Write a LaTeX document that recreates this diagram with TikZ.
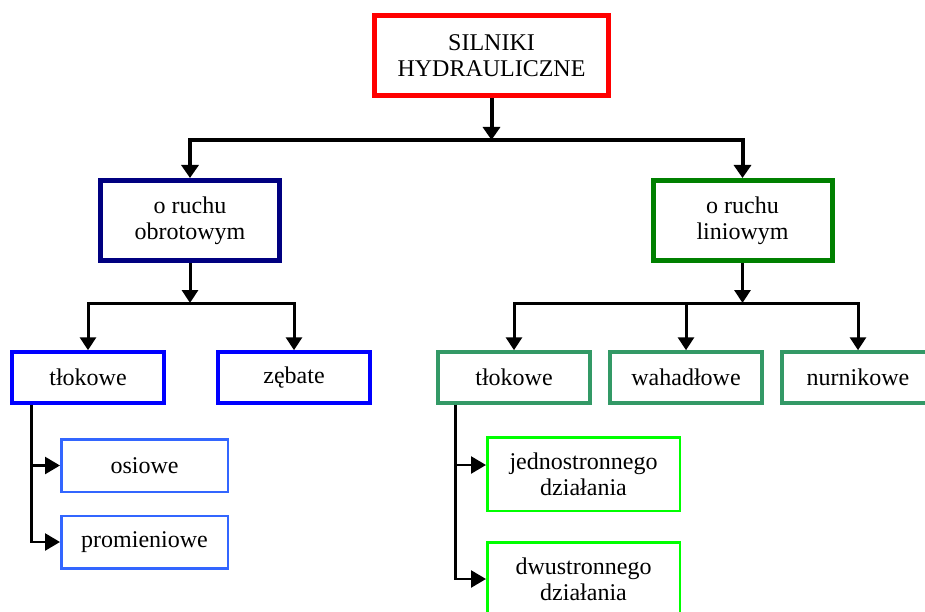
\documentclass[tikz,border=0pt]{standalone}
\usepackage{fontspec}
\setmainfont{Liberation Serif}
\usetikzlibrary{arrows.meta}

\definecolor{mainred}{RGB}{255,0,0}
\definecolor{rotnavy}{RGB}{0,0,128}
\definecolor{lingreen}{RGB}{0,128,0}
\definecolor{rotblue}{RGB}{0,0,255}
\definecolor{linsea}{RGB}{51,153,102}
\definecolor{sublight}{RGB}{51,102,255}
\definecolor{sublime}{RGB}{0,255,0}

\begin{document}
\begin{tikzpicture}[
    x=1pt, y=-1pt,
    box/.style={rectangle, draw, fill=white, inner sep=0pt, align=center,
        font=\fontsize{24}{26}\selectfont},
    main box/.style={box, draw=mainred, line width=5pt, minimum width=234pt, minimum height=80pt},
    group box/.style={box, line width=5pt, minimum width=179pt, minimum height=80pt},
    type box/.style={box, line width=3.5pt, minimum width=152pt, minimum height=51pt},
    sub box/.style={box, line width=2.5pt},
    bus/.style={line width=4pt, -{Triangle[length=13pt,width=17pt]}},
    branch/.style={line width=3pt, -{Triangle[length=13pt,width=16pt]}},
    side/.style={line width=2.5pt, -{Triangle[length=15pt,width=17pt]}}
]
\useasboundingbox (0,0) rectangle (925,612);
\clip (0,0) rectangle (925,612);

% Top
\node[main box] (top) at (491.5,55.5) {SILNIKI\\HYDRAULICZNE};

% Rotary and linear groups
\node[group box, draw=rotnavy] (rot) at (190,220.5) {o ruchu\\obrotowym};
\node[group box, draw=lingreen] (lin) at (742.5,220.5) {o ruchu\\liniowym};

% Types
\node[type box, draw=rotblue] (tlok1) at (88,377.5) {tłokowe};
\node[type box, draw=rotblue] (zeb) at (294,377.5) {zębate};
\node[type box, draw=linsea] (tlok2) at (514,377.5) {tłokowe};
\node[type box, draw=linsea] (wah) at (686,377.5) {wahadłowe};
\node[type box, draw=linsea] (nurn) at (858,377.5) {nurnikowe};

% Sub-types
\node[sub box, draw=sublight, minimum width=166.5pt, minimum height=52.5pt] (osiowe) at (144.5,465.5) {osiowe};
\node[sub box, draw=sublight, minimum width=166.5pt, minimum height=52.5pt] (prom) at (144.5,542) {promieniowe};
\node[sub box, draw=sublime, minimum width=192.5pt, minimum height=73.5pt] (jedn) at (583.5,474) {jednostronnego\\działania};
\node[sub box, draw=sublime, minimum width=192.5pt, minimum height=73.5pt] (dwu) at (583.5,579) {dwustronnego\\działania};

% Split points
\coordinate (top split) at (491.5,140);
\coordinate (rot split) at (190,303);
\coordinate (lin split) at (742.5,303);

% Connections
\draw[bus] (top) -- (top split);
\foreach \n in {rot, lin}
    \draw[bus] (top split) -| (\n.north);

\draw[branch] (rot) -- (rot split);
\foreach \n in {tlok1, zeb}
    \draw[branch] (rot split) -| (\n.north);

\draw[branch] (lin) -- (lin split);
\foreach \n in {tlok2, wah, nurn}
    \draw[branch] (lin split) -| (\n.north);

\foreach \n in {osiowe, prom}
    \draw[side] ([xshift=21pt]tlok1.south west) |- (\n.west);
\draw[side] ([xshift=19pt]tlok2.south west) |- ([yshift=9pt]jedn.west);
\draw[side] ([xshift=19pt]tlok2.south west) |- (dwu.west);

\end{tikzpicture}
\end{document}
